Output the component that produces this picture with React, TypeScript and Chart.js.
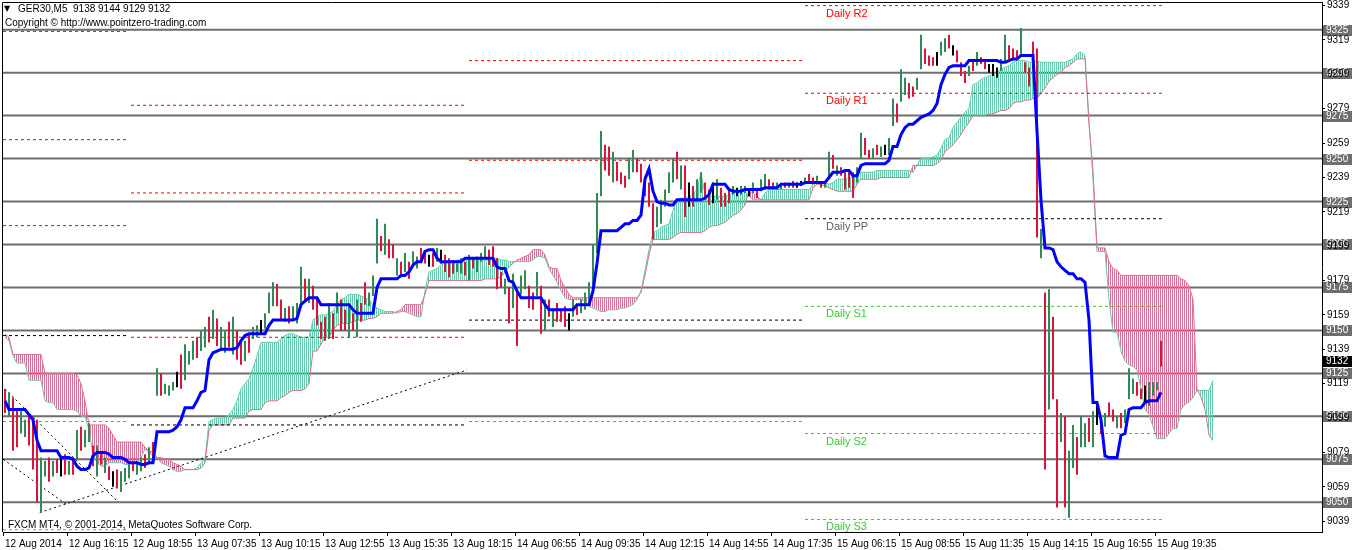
import React, { useEffect, useRef } from 'react';
import { Chart, registerables } from 'chart.js';

Chart.register(...registerables);

// ---------------- data ----------------
const symbolTitle = 'GER30,M5  9138 9144 9129 9132';
const copyrightText = 'Copyright \u00A9 http://www.pointzero-trading.com';
const footerText = 'FXCM MT4, \u00A9 2001-2014, MetaQuotes Software Corp.';

const timeLabels = [
  '12 Aug 2014', '12 Aug 16:15', '12 Aug 18:55', '13 Aug 07:35', '13 Aug 10:15',
  '13 Aug 12:55', '13 Aug 15:35', '13 Aug 18:15', '14 Aug 06:55', '14 Aug 09:35',
  '14 Aug 12:15', '14 Aug 14:55', '14 Aug 17:35', '15 Aug 06:15', '15 Aug 08:55',
  '15 Aug 11:35', '15 Aug 14:15', '15 Aug 16:55', '15 Aug 19:35',
];
const pointsPerTimeLabel = 16;

const priceTicks = [9339, 9319, 9299, 9279, 9259, 9239, 9219, 9199, 9179, 9159, 9139, 9119, 9099, 9079, 9059, 9039];
const roundLevels = [9325, 9300, 9275, 9250, 9225, 9200, 9175, 9150, 9125, 9100, 9075, 9050];
const lastPrice = 9132;

const barHigh = [
  9116, 9114, 9111, 9104, 9103, 9098, 9101, 9100, 9098, 9076,
  9074, 9076, 9074, 9075, 9076, 9078, 9074, 9076, 9092, 9094,
  9092, 9096, 9083, 9083, 9079, 9076, 9071, 9068, 9069, 9068,
  9070, 9072, 9073, 9074, 9076, 9078, 9082, 9085, 9128, 9125,
  9119, 9118, 9120, 9126, 9136, 9142, 9138, 9144, 9146, 9150,
  9152, 9158, 9162, 9157, 9152, 9150, 9155, 9158, 9150, 9145,
  9144, 9148, 9152, 9153, 9156, 9160, 9172, 9178, 9177, 9168,
  9163, 9164, 9164, 9166, 9187, 9180, 9180, 9176, 9168, 9155,
  9158, 9166, 9160, 9172, 9168, 9162, 9164, 9160, 9168, 9166,
  9178, 9172, 9182, 9215, 9205, 9212, 9203, 9200, 9192, 9190,
  9195, 9190, 9196, 9193, 9198, 9196, 9194, 9195, 9198, 9197,
  9194, 9192, 9191, 9189, 9192, 9190, 9194, 9192, 9193, 9195,
  9199, 9197, 9199, 9192, 9184, 9180, 9175, 9183, 9174, 9182,
  9185, 9176, 9172, 9184, 9176, 9168, 9168, 9162, 9166, 9162,
  9164, 9160, 9168, 9164, 9168, 9172, 9178, 9200, 9230, 9266,
  9258, 9257, 9254, 9248, 9242, 9240, 9250, 9255, 9250, 9247,
  9240, 9236, 9224, 9222, 9226, 9232, 9242, 9250, 9254, 9246,
  9246, 9236, 9234, 9238, 9242, 9236, 9232, 9236, 9238, 9233,
  9230, 9232, 9234, 9233, 9234, 9234, 9232, 9236, 9233, 9238,
  9241, 9238, 9236, 9236, 9235, 9236, 9236, 9237, 9236, 9237,
  9239, 9241, 9239, 9240, 9237, 9237, 9254, 9252, 9246, 9245,
  9242, 9242, 9242, 9245, 9265, 9262, 9255, 9256, 9258, 9257,
  9258, 9262, 9285, 9282, 9302, 9297, 9294, 9292, 9297, 9322,
  9314, 9310, 9309, 9312, 9318, 9320, 9322, 9316, 9313, 9306,
  9301, 9304, 9307, 9312, 9309, 9308, 9305, 9305, 9303, 9308,
  9322, 9316, 9314, 9313, 9326, 9306, 9303, 9318, 9314, 9209,
  9172, 9174, 9158, 9110, 9102, 9100, 9080, 9095, 9088, 9100,
  9096, 9099, 9103, 9108, 9098, 9102, 9108, 9104, 9100, 9102,
  9104, 9128, 9122, 9120, 9116, 9118, 9120, 9120, 9120, 9144,
];

const barLow = [
  9102, 9100, 9080, 9082, 9090, 9088, 9083, 9069, 9050, 9044,
  9065, 9062, 9065, 9067, 9065, 9066, 9066, 9066, 9075, 9080,
  9082, 9085, 9071, 9065, 9072, 9067, 9063, 9059, 9058, 9056,
  9062, 9064, 9068, 9066, 9068, 9070, 9072, 9073, 9112, 9112,
  9113, 9112, 9115, 9117, 9116, 9121, 9130, 9133, 9134, 9138,
  9140, 9143, 9145, 9141, 9138, 9137, 9140, 9136, 9133, 9130,
  9132, 9137, 9145, 9146, 9148, 9151, 9160, 9164, 9164, 9156,
  9155, 9154, 9156, 9154, 9166, 9167, 9166, 9162, 9153, 9145,
  9144, 9145, 9145, 9160, 9150, 9150, 9146, 9150, 9146, 9155,
  9165, 9164, 9170, 9189, 9196, 9194, 9192, 9192, 9182, 9181,
  9184, 9180, 9187, 9186, 9190, 9189, 9187, 9187, 9190, 9189,
  9184, 9181, 9183, 9184, 9183, 9182, 9179, 9186, 9184, 9190,
  9192, 9188, 9187, 9174, 9175, 9171, 9154, 9163, 9141, 9171,
  9174, 9163, 9162, 9170, 9148, 9150, 9158, 9152, 9155, 9155,
  9152, 9150, 9158, 9159, 9160, 9162, 9168, 9176, 9195, 9228,
  9243, 9240, 9236, 9237, 9235, 9233, 9238, 9242, 9242, 9236,
  9228, 9222, 9203, 9210, 9212, 9222, 9230, 9236, 9238, 9232,
  9216, 9222, 9222, 9225, 9230, 9226, 9223, 9224, 9226, 9222,
  9222, 9224, 9229, 9228, 9229, 9230, 9228, 9230, 9227, 9231,
  9232, 9232, 9232, 9232, 9232, 9233, 9233, 9233, 9233, 9234,
  9235, 9236, 9235, 9236, 9233, 9233, 9238, 9244, 9240, 9240,
  9232, 9233, 9227, 9236, 9250, 9252, 9250, 9250, 9252, 9251,
  9252, 9252, 9269, 9271, 9283, 9287, 9285, 9286, 9290, 9302,
  9305, 9304, 9304, 9304, 9310, 9312, 9314, 9310, 9306, 9298,
  9294, 9298, 9301, 9304, 9305, 9302, 9300, 9298, 9297, 9301,
  9306, 9308, 9307, 9308, 9310, 9300, 9292, 9302, 9204, 9192,
  9069, 9104, 9110, 9047, 9085, 9047, 9041, 9070, 9066, 9082,
  9082, 9085, 9082, 9095, 9090, 9094, 9100, 9097, 9093, 9093,
  9096, 9110, 9113, 9112, 9110, 9108, 9106, 9112, 9115, 9129,
];

// U = up bar, D = down bar, N = unchanged
const barDirection = [
  'DUDDUUDDDU', 'UDUDNDUDUD', 'UUDUDUDNDU', 'UUDUUDUDUD', 'UUUNDUUUDU',
  'UDUDUUDUDD', 'UDUUNUUUDD', 'UDUUUDUDDD', 'DUDUDDUDUD', 'DUUUDUDDUD',
  'UDUUDDNDUN', 'DDDUUDUDUU', 'UDDDDUDUDU', 'UDDUDUDUDD', 'DNUDUUUUUU',
  'DDUDDDUUDD', 'DDDUUUUUDU', 'DNDUUDDNUD', 'DDUNUUNUDU', 'UDDUUDUDNN',
  'UDDUDUUDUD', 'DDDUUDDUDU', 'NUUDUUDDUU', 'DDDNUUDNDD', 'DUDUDDNNNU',
  'UDDDUDDDDU', 'DUDDUDUUDU', 'UDUNDUDDUD', 'UUUDDNUUUD',
].join('');

const kijunSen = [
  9109, 9104, 9104, 9104, 9104, 9104, 9101, 9098, 9086, 9080,
  9080, 9080, 9080, 9080, 9076, 9076, 9076, 9075, 9071, 9069,
  9069, 9070, 9077, 9079, 9079, 9079, 9078, 9076, 9076, 9076,
  9075, 9073, 9073, 9073, 9072, 9072, 9073, 9073, 9091, 9091,
  9091, 9091, 9092, 9094, 9098, 9105, 9105, 9105, 9109, 9114,
  9115, 9133, 9137, 9138, 9139, 9139, 9139, 9139, 9140, 9144,
  9147, 9148, 9148, 9148, 9148, 9148, 9153, 9156, 9156, 9156,
  9156, 9156, 9156, 9157, 9165, 9167, 9169, 9169, 9169, 9165,
  9165, 9165, 9165, 9165, 9165, 9165, 9165, 9162, 9160, 9160,
  9160, 9160, 9160, 9175, 9180, 9180, 9180, 9180, 9180, 9182,
  9182, 9184, 9188, 9190, 9190, 9196, 9197, 9197, 9192, 9190,
  9190, 9190, 9190, 9190, 9190, 9192, 9192, 9192, 9192, 9192,
  9192, 9192, 9192, 9187, 9186, 9186, 9179, 9178, 9173, 9169,
  9169, 9169, 9169, 9169, 9169, 9165, 9162, 9162, 9162, 9162,
  9162, 9162, 9162, 9165, 9165, 9165, 9165, 9173, 9189, 9208,
  9208, 9208, 9208, 9208, 9210, 9212, 9212, 9214, 9214, 9217,
  9238, 9244, 9231, 9225, 9224, 9224, 9223, 9223, 9226, 9226,
  9226, 9226, 9226, 9226, 9226, 9227, 9229, 9235, 9235, 9235,
  9235, 9232, 9231, 9231, 9231, 9232, 9232, 9232, 9232, 9232,
  9233, 9233, 9233, 9233, 9235, 9235, 9235, 9235, 9235, 9235,
  9236, 9236, 9236, 9236, 9236, 9236, 9239, 9242, 9242, 9242,
  9243, 9243, 9240, 9240, 9246, 9247, 9247, 9247, 9247, 9247,
  9247, 9249, 9257, 9257, 9264, 9268, 9270, 9270, 9272, 9274,
  9275, 9276, 9278, 9282, 9293, 9299, 9303, 9304, 9304, 9304,
  9304, 9307, 9307, 9307, 9307, 9307, 9307, 9307, 9307, 9306,
  9306, 9307, 9308, 9308, 9310, 9310, 9310, 9310, 9266, 9226,
  9198, 9198, 9197, 9190, 9187, 9185, 9183, 9183, 9180, 9180,
  9178, 9156, 9108, 9108, 9098, 9077, 9076, 9076, 9076, 9089,
  9090, 9104, 9105, 9105, 9105, 9108, 9109, 9109, 9109, 9114,
];

const senkouSpanA = [
  9146, 9144, 9135, 9131, 9131, 9131, 9121, 9121, 9121, 9121,
  9109, 9108, 9108, 9104, 9104, 9104, 9104, 9104, 9103, 9100,
  9100, 9092, 9077, 9073, 9071, 9071, 9073, 9073, 9073, 9073,
  9072, 9072, 9073, 9073, 9076, 9081, 9079, 9077, 9076, 9073,
  9072, 9071, 9069, 9068, 9068, 9069, 9069, 9069, 9070, 9073,
  9075, 9097, 9098, 9099, 9099, 9099, 9101, 9104, 9109, 9116,
  9119, 9122, 9128, 9135, 9143, 9143, 9143, 9143, 9143, 9145,
  9147, 9148, 9148, 9147, 9146, 9146, 9146, 9156, 9158, 9159,
  9159, 9160, 9161, 9165, 9168, 9169, 9171, 9171, 9171, 9170,
  9169, 9168, 9165, 9163, 9162, 9161, 9161, 9161, 9160, 9161,
  9161, 9160, 9159, 9158, 9158, 9173, 9184, 9185, 9186, 9188,
  9190, 9190, 9190, 9191, 9191, 9191, 9191, 9191, 9191, 9191,
  9191, 9191, 9192, 9192, 9191, 9191, 9190, 9190, 9190, 9190,
  9190, 9190, 9191, 9193, 9193, 9192, 9186, 9182, 9178, 9173,
  9169, 9168, 9168, 9168, 9168, 9167, 9164, 9163, 9162, 9161,
  9161, 9162, 9162, 9162, 9163, 9163, 9164, 9165, 9168, 9173,
  9185, 9197, 9207, 9208, 9210, 9211, 9212, 9220, 9226, 9227,
  9227, 9228, 9229, 9232, 9242, 9229, 9228, 9228, 9228, 9228,
  9228, 9229, 9230, 9231, 9231, 9231, 9228, 9226, 9226, 9226,
  9230, 9232, 9232, 9232, 9232, 9232, 9232, 9232, 9232, 9232,
  9232, 9232, 9235, 9236, 9236, 9236, 9235, 9236, 9238, 9238,
  9238, 9239, 9239, 9241, 9242, 9242, 9242, 9242, 9243, 9243,
  9243, 9243, 9243, 9243, 9243, 9243, 9243, 9242, 9246, 9250,
  9250, 9250, 9251, 9252, 9256, 9261, 9262, 9268, 9271, 9274,
  9277, 9279, 9293, 9294, 9296, 9297, 9298, 9299, 9300, 9302,
  9303, 9304, 9306, 9307, 9307, 9307, 9306, 9306, 9307, 9306,
  9306, 9306, 9306, 9306, 9306, 9306, 9307, 9308, 9311, 9312,
  9310, 9272, 9238, 9196, 9196, 9196, 9168, 9149, 9149, 9138,
  9132, 9130, 9129, 9127, 9116, 9104, 9101, 9094, 9087, 9087,
  9087, 9090, 9093, 9093, 9104, 9107, 9108, 9111, 9115, 9115,
  9115, 9115, 9121,
];

const senkouSpanB = [
  9148, 9146, 9136, 9136, 9136, 9136, 9136, 9136, 9136, 9136,
  9125, 9125, 9125, 9125, 9125, 9125, 9125, 9125, 9124, 9119,
  9109, 9095, 9095, 9095, 9095, 9095, 9093, 9089, 9085, 9085,
  9085, 9085, 9085, 9085, 9085, 9082, 9080, 9079, 9076, 9076,
  9075, 9075, 9073, 9072, 9071, 9069, 9069, 9069, 9069, 9070,
  9073, 9092, 9095, 9095, 9095, 9095, 9095, 9099, 9099, 9099,
  9099, 9103, 9104, 9104, 9104, 9108, 9109, 9109, 9109, 9111,
  9112, 9114, 9115, 9115, 9115, 9116, 9119, 9138, 9138, 9142,
  9146, 9146, 9150, 9153, 9154, 9154, 9154, 9155, 9156, 9156,
  9156, 9157, 9157, 9158, 9160, 9160, 9160, 9160, 9161, 9162,
  9165, 9165, 9165, 9165, 9165, 9171, 9179, 9179, 9179, 9179,
  9179, 9179, 9179, 9179, 9179, 9179, 9179, 9179, 9179, 9179,
  9180, 9180, 9180, 9180, 9181, 9184, 9187, 9189, 9191, 9192,
  9193, 9194, 9197, 9197, 9197, 9194, 9187, 9186, 9186, 9179,
  9175, 9171, 9169, 9169, 9169, 9169, 9169, 9169, 9169, 9169,
  9169, 9169, 9169, 9169, 9169, 9169, 9169, 9169, 9169, 9172,
  9182, 9194, 9203, 9203, 9203, 9203, 9203, 9204, 9206, 9207,
  9207, 9207, 9207, 9207, 9207, 9208, 9210, 9211, 9211, 9212,
  9213, 9215, 9217, 9218, 9220, 9223, 9231, 9230, 9228, 9226,
  9226, 9226, 9226, 9226, 9226, 9226, 9226, 9226, 9226, 9226,
  9226, 9226, 9233, 9235, 9235, 9234, 9233, 9232, 9231, 9231,
  9231, 9231, 9231, 9235, 9238, 9238, 9238, 9238, 9238, 9239,
  9239, 9239, 9239, 9239, 9239, 9239, 9239, 9246, 9246, 9246,
  9246, 9246, 9246, 9247, 9249, 9254, 9256, 9258, 9261, 9264,
  9268, 9271, 9275, 9275, 9275, 9275, 9276, 9276, 9277, 9278,
  9278, 9279, 9282, 9283, 9283, 9284, 9284, 9285, 9285, 9288,
  9291, 9295, 9297, 9299, 9300, 9303, 9304, 9306, 9308, 9308,
  9308, 9270, 9243, 9198, 9198, 9198, 9190, 9186, 9185, 9182,
  9182, 9182, 9182, 9182, 9182, 9182, 9182, 9182, 9182, 9182,
  9182, 9182, 9182, 9182, 9180, 9179, 9176, 9168, 9116, 9111,
  9104, 9089, 9086,
];

// Daily pivot levels: one entry per trading day shown (null = off the chart)
const pivotDayStart = [-0.5, 31.5, 116, 200];
const pivotDayEnd = [30.5, 115.5, 199.5, 289.2];
const pivotR3 = [9324, 9281, null, null];
const pivotR2 = [9261, 9230, 9307, 9339];
const pivotR1 = [9211, 9146, 9249, 9288];
const pivotPP = [9147, 9095, 9156, 9215];
const pivotS1 = [9097, null, 9097, 9164];
const pivotS2 = [9034, null, null, 9090];
const pivotS3 = [null, null, null, 9040];

// Hand-drawn trend lines (start/end in point index and price)
const trendStartX = [-0.85, -0.45, 8.7];
const trendStartPrice = [9118, 9075, 9044];
const trendEndX = [27.9, 15.8, 115.5];
const trendEndPrice = [9051, 9048, 9127];

// ---------------- view ----------------
const X_MIN = -0.5;
const X_MAX = 329.25;
const Y_MIN = 9032.7;
const Y_MAX = 9341.1;

const UI_FONT = "'Liberation Sans', Arial, sans-serif";
const FONT_SIZE = 10;
const RED = '#FF0000';
const LIME = '#32CD32';
const CLOUD_GREEN = '#66CDAA';
const CLOUD_PINK = '#DB7093';
const BAR_COLORS: Record<string, string> = { U: '#2E8B57', D: '#DC143C', N: '#000000' };

const decorPlugin = {
  id: 'mt4Decor',
  afterDatasetsDraw(chart: any) {
    const { ctx, chartArea: a, scales } = chart;
    const y = scales.y;
    ctx.save();
    ctx.font = `${FONT_SIZE}px ${UI_FONT}`;
    ctx.textBaseline = 'middle';
    ctx.textAlign = 'left';
    roundLevels.forEach((lv) => {
      const py = Math.round(y.getPixelForValue(lv));
      ctx.fillStyle = '#6E6E6E';
      ctx.fillRect(a.right + 1, py - 5, 29, 11);
      ctx.fillStyle = '#FFFFFF';
      ctx.fillText(String(lv), a.right + 4, py + 0.5);
    });
    ctx.restore();
  },
  afterDraw(chart: any) {
    const { ctx, chartArea: a, scales } = chart;
    const x = scales.x;
    const y = scales.y;
    ctx.save();
    ctx.strokeStyle = '#000';
    ctx.lineWidth = 1;
    ctx.beginPath();
    ctx.moveTo(a.left - 0.5, a.bottom);
    ctx.lineTo(a.left - 0.5, a.top + 0.5);
    ctx.lineTo(a.right, a.top + 0.5);
    ctx.stroke();

    const pp = Math.round(y.getPixelForValue(lastPrice));
    ctx.fillStyle = '#000';
    ctx.fillRect(a.right + 1, pp - 5, 29, 11);
    ctx.font = `${FONT_SIZE}px ${UI_FONT}`;
    ctx.textBaseline = 'middle';
    ctx.textAlign = 'left';
    ctx.fillStyle = '#FFF';
    ctx.fillText(String(lastPrice), a.right + 4, pp + 0.5);

    ctx.save();
    ctx.beginPath();
    ctx.rect(a.left, a.top, a.right - a.left, a.bottom - a.top);
    ctx.clip();
    const today = pivotDayStart.length - 1;
    const lx = x.getPixelForValue(pivotDayStart[today]) + 21;
    const labels: [string, (number | null)[], string][] = [
      ['Daily R2', pivotR2, RED], ['Daily R1', pivotR1, RED], ['Daily PP', pivotPP, '#606060'],
      ['Daily S1', pivotS1, LIME], ['Daily S2', pivotS2, LIME], ['Daily S3', pivotS3, LIME],
    ];
    ctx.font = `11px ${UI_FONT}`;
    labels.forEach(([t, arr, c]) => {
      const v = arr[today];
      if (v == null) return;
      ctx.fillStyle = c;
      ctx.fillText(t, lx, y.getPixelForValue(v) + 8);
    });
    ctx.restore();

    ctx.fillStyle = '#000';
    ctx.font = `8px 'DejaVu Sans', sans-serif`;
    ctx.fillText('\u25BC', 4, 9);
    ctx.font = `${FONT_SIZE}px ${UI_FONT}`;
    ctx.fillText(symbolTitle, 18, 9);
    ctx.fillText(copyrightText, 5, 23);
    ctx.fillText(footerText, 8, 525);
    ctx.restore();
  },
};

export default function App() {
  const ref = useRef<HTMLCanvasElement>(null);

  useEffect(() => {
    const canvas = ref.current;
    if (!canvas) return;
    const ctx2d = canvas.getContext('2d')!;
    const hatch = (color: string) => {
      const c = document.createElement('canvas');
      c.width = 2;
      c.height = 1;
      const g = c.getContext('2d')!;
      g.fillStyle = color;
      g.fillRect(0, 0, 1, 1);
      return ctx2d.createPattern(c, 'repeat');
    };

    const datasets: any[] = [];
    const lineBase = { type: 'line', pointRadius: 0, tension: 0, fill: false, borderWidth: 1 };

    roundLevels.forEach((lv) =>
      datasets.push({ ...lineBase, data: [{ x: X_MIN, y: lv }, { x: X_MAX, y: lv }], borderColor: '#6E6E6E', borderWidth: 2, order: 7 })
    );

    const bIndex = datasets.length;
    datasets.push({ ...lineBase, data: senkouSpanB.map((v, i) => ({ x: i, y: v })), borderColor: CLOUD_PINK, order: 5 });
    datasets.push({
      ...lineBase,
      data: senkouSpanA.map((v, i) => ({ x: i, y: v })),
      borderColor: CLOUD_GREEN,
      order: 6,
      fill: { target: bIndex, above: hatch(CLOUD_GREEN), below: hatch(CLOUD_PINK) },
    });

    const pivotSets: [(number | null)[], string][] = [
      [pivotR3, RED], [pivotR2, RED], [pivotR1, RED], [pivotPP, '#000000'],
      [pivotS1, LIME], [pivotS2, LIME], [pivotS3, LIME],
    ];
    pivotSets.forEach(([vals, color]) =>
      vals.forEach((v, d) => {
        if (v == null) return;
        datasets.push({
          ...lineBase,
          data: [{ x: pivotDayStart[d], y: v }, { x: pivotDayEnd[d], y: v }],
          borderColor: color,
          borderDash: [3, 3],
          order: 4,
        });
      })
    );

    trendStartX.forEach((x0, k) =>
      datasets.push({
        ...lineBase,
        data: [{ x: x0, y: trendStartPrice[k] }, { x: trendEndX[k], y: trendEndPrice[k] }],
        borderColor: '#000000',
        borderDash: [2, 3],
        order: 3,
      })
    );

    // price bars: one floating-bar dataset per bar direction, each a single colour
    (['U', 'D', 'N'] as const).forEach((dir) => {
      const pts: any[] = [];
      barHigh.forEach((h, i) => {
        if (barDirection[i] === dir) pts.push({ x: i, y: [barLow[i], h] });
      });
      datasets.push({
        type: 'bar',
        data: pts,
        backgroundColor: BAR_COLORS[dir],
        hoverBackgroundColor: BAR_COLORS[dir],
        borderWidth: 0,
        grouped: false,
        maxBarThickness: 2,
        inflateAmount: 0,
        minBarLength: 1,
        order: 1,
      });
    });

    datasets.push({ ...lineBase, data: kijunSen.map((v, i) => ({ x: i, y: v })), borderColor: '#0000FF', borderWidth: 3, order: 0 });

    const tickPositions = timeLabels.map((_, k) => X_MIN + k * pointsPerTimeLabel);

    const chart = new Chart(canvas, {
      type: 'line',
      data: { datasets },
      plugins: [decorPlugin],
      options: {
        responsive: false,
        animation: false,
        devicePixelRatio: 1,
        events: [],
        layout: { padding: { left: 3, top: 2, right: 0, bottom: 0 } },
        plugins: { legend: { display: false }, tooltip: { enabled: false }, title: { display: false }, colors: { enabled: false } },
        scales: {
          x: {
            type: 'linear',
            min: X_MIN,
            max: X_MAX,
            bounds: 'data',
            offset: false,
            grid: { display: true, drawOnChartArea: false, drawTicks: true, tickLength: 4, color: '#000', offset: false },
            border: { display: true, color: '#000', width: 1 },
            ticks: {
              autoSkip: false,
              maxRotation: 0,
              minRotation: 0,
              align: 'start',
              labelOffset: 2,
              padding: 2,
              color: '#000',
              font: { family: UI_FONT, size: FONT_SIZE },
              callback: (_v: any, i: number) => timeLabels[i] ?? '',
            },
            afterBuildTicks: (s: any) => {
              s.ticks = tickPositions.map((v) => ({ value: v }));
            },
            afterFit: (s: any) => {
              s.height = 18;
              s.paddingLeft = 0;
              s.paddingRight = 0;
            },
          },
          y: {
            type: 'linear',
            position: 'right',
            min: Y_MIN,
            max: Y_MAX,
            bounds: 'data',
            grid: { display: true, drawOnChartArea: false, drawTicks: true, tickLength: 3, color: '#000' },
            border: { display: true, color: '#000', width: 1 },
            ticks: {
              z: 1,
              padding: 2,
              color: '#000',
              font: { family: UI_FONT, size: FONT_SIZE },
              callback: (v: any) => String(v),
            },
            afterBuildTicks: (s: any) => {
              s.ticks = priceTicks.map((v) => ({ value: v }));
            },
            afterFit: (s: any) => {
              s.width = 40;
              s.paddingTop = 0;
              s.paddingBottom = 0;
            },
          },
        },
      } as any,
    } as any);

    return () => chart.destroy();
  }, []);

  return (
    <div style={{ position: 'fixed', left: 0, top: 0, width: 1362, height: 550, background: '#fff' }}>
      <canvas ref={ref} width={1362} height={550} style={{ display: 'block', width: 1362, height: 550 }} />
    </div>
  );
}
